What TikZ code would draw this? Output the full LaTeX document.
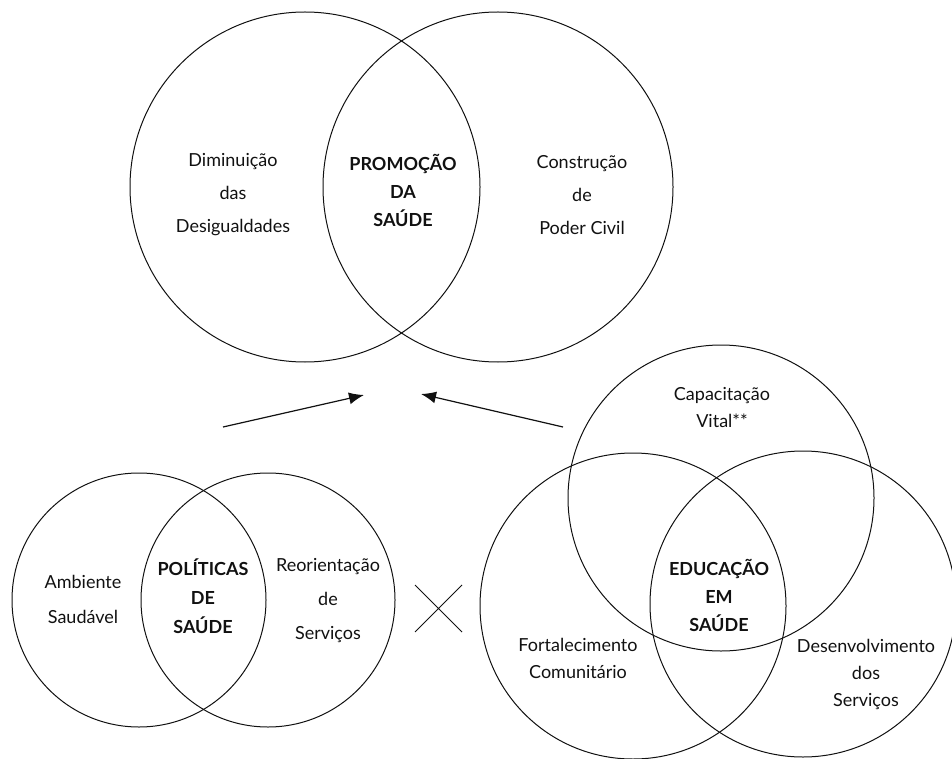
\documentclass[tikz,border=0pt]{standalone}
\usepackage{fontspec}
\setmainfont{Lato}
\usepackage{xcolor}
\usepackage{tikz}
\usetikzlibrary{arrows.meta}
\definecolor{ink}{HTML}{111111}

\begin{document}
\begin{tikzpicture}[x=1pt, y=-1pt,
  ring/.style={draw=ink, circle, line width=1pt, inner sep=0pt, minimum size=#1},
  lbl/.style={align=center, text=ink, inner sep=0pt, font=\fontsize{18}{#1}\selectfont},
  hd/.style={lbl, font=\fontsize{18}{#1}\selectfont\bfseries},
  arr/.style={draw=ink, line width=1.2pt, -{Latex[length=15pt,width=12pt]}}]
\useasboundingbox (0,0) rectangle (952,759);

% helper: circle of the diagram, name / centre x / centre y / diameter
\newcommand{\vennring}[4]{\node[ring=#4] (#1) at (#2,#3) {};}

% Promocao da saude (top pair)
\vennring{promL}{305}{187}{350}
\vennring{promR}{498}{187}{350}
\node[lbl=33] (dimin) at (233,195) {Diminuição\\das\\Desigualdades};
\node[hd=28] (promo) at (403,190) {PROMOÇÃO\\DA\\SAÚDE};
\node[lbl=33] (constr) at (582,195) {Construção\\de\\Poder Civil};

% Politicas de saude (bottom left pair)
\vennring{polL}{139}{600}{254}
\vennring{polR}{268}{600}{254}
\node[lbl=35] (amb) at (83,599) {Ambiente\\Saudável};
\node[hd=29] (polit) at (203,596) {POLÍTICAS\\DE\\SAÚDE};
\node[lbl=34] (reor) at (328,601) {Reorientação\\de\\Serviços};

% Educacao em saude (bottom right triple)
\vennring{eduT}{721}{498}{306}
\vennring{eduL}{633}{606}{306}
\vennring{eduR}{803}{604}{306}
\node[lbl=27] (capac) at (722,408) {Capacitação\\Vital**};
\node[hd=28] (educ) at (719,595) {EDUCAÇÃO\\EM\\SAÚDE};
\node[lbl=27] (fort) at (578,658) {Fortalecimento\\Comunitário};
\node[lbl=27] (desenv) at (866,674) {Desenvolvimento\\dos\\Serviços};

% arrows up to the top pair
\coordinate (lTail) at (223,427);
\coordinate (lTip) at (364,395);
\coordinate (rTail) at (563,427);
\coordinate (rTip) at (421,394);
\draw[arr] (lTail) -- (lTip);
\draw[arr] (rTail) -- (rTip);

% cross between the two lower groups
\coordinate (xA) at (415,585);
\coordinate (xB) at (462,632);
\coordinate (xC) at (462,585);
\coordinate (xD) at (415,632);
\draw[ink, line width=1pt] (xA) -- (xB) (xC) -- (xD);
\end{tikzpicture}
\end{document}
